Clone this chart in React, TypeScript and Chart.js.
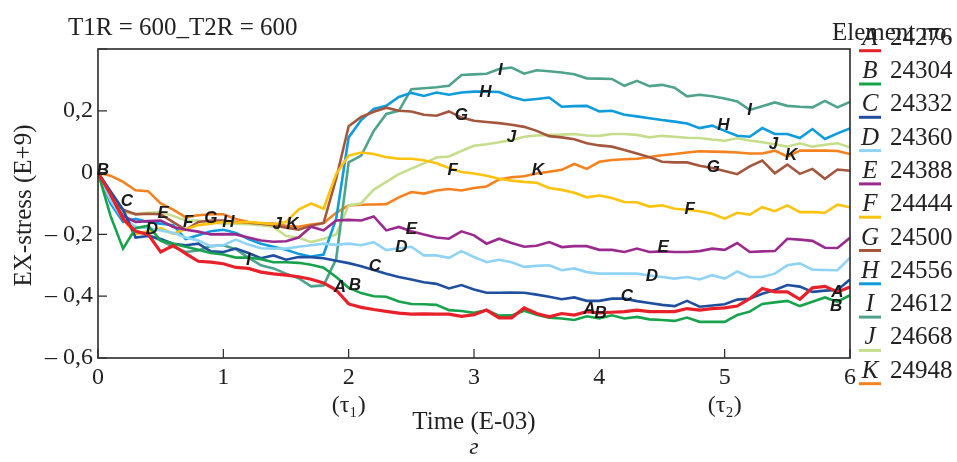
import React, { useEffect, useRef } from "react";
import { Chart, registerables } from "chart.js";
Chart.register(...registerables);

const TIME = [0, 0.1, 0.2, 0.3, 0.4, 0.5, 0.6, 0.7, 0.8, 0.9,
  1.0, 1.1, 1.2, 1.3, 1.4, 1.5, 1.6, 1.7, 1.8, 1.9,
  2.0, 2.1, 2.2, 2.3, 2.4, 2.5, 2.6, 2.7, 2.8, 2.9,
  3.0, 3.1, 3.2, 3.3, 3.4, 3.5, 3.6, 3.7, 3.8, 3.9,
  4.0, 4.1, 4.2, 4.3, 4.4, 4.5, 4.6, 4.7, 4.8, 4.9,
  5.0, 5.1, 5.2, 5.3, 5.4, 5.5, 5.6, 5.7, 5.8, 5.9, 6.0];

const SERIES_A = [0, -0.07, -0.15, -0.19, -0.2, -0.257, -0.236, -0.262, -0.287, -0.29,
  -0.295, -0.307, -0.31, -0.322, -0.328, -0.332, -0.337, -0.345, -0.357, -0.38,
  -0.425, -0.436, -0.443, -0.449, -0.455, -0.458, -0.457, -0.458, -0.458, -0.465,
  -0.46, -0.445, -0.47, -0.47, -0.438, -0.456, -0.467, -0.456, -0.461, -0.45,
  -0.454, -0.452, -0.45, -0.445, -0.45, -0.45, -0.45, -0.44, -0.445, -0.44,
  -0.438, -0.432, -0.408, -0.375, -0.386, -0.386, -0.41, -0.373, -0.368, -0.386, -0.37];
const SERIES_B = [0, -0.14, -0.246, -0.18, -0.172, -0.22, -0.23, -0.24, -0.25, -0.26,
  -0.265, -0.275, -0.275, -0.28, -0.29, -0.29, -0.292, -0.298, -0.308, -0.338,
  -0.373, -0.39, -0.4, -0.402, -0.417, -0.425, -0.426, -0.428, -0.445, -0.448,
  -0.454, -0.445, -0.463, -0.462, -0.447, -0.46, -0.47, -0.472, -0.477, -0.465,
  -0.472, -0.462, -0.472, -0.467, -0.475, -0.477, -0.48, -0.469, -0.483, -0.483,
  -0.483, -0.461, -0.45, -0.425, -0.42, -0.415, -0.432, -0.418, -0.404, -0.418, -0.397];
const SERIES_C = [0, -0.06, -0.12, -0.21, -0.205, -0.215, -0.23, -0.235, -0.23, -0.255,
  -0.257, -0.246, -0.26, -0.277, -0.268, -0.282, -0.273, -0.274, -0.277, -0.285,
  -0.293, -0.303, -0.315, -0.327, -0.338, -0.346, -0.355, -0.36, -0.375, -0.364,
  -0.378, -0.389, -0.389, -0.388, -0.389, -0.395, -0.402, -0.41, -0.404, -0.415,
  -0.415, -0.408, -0.408, -0.416, -0.422, -0.428, -0.432, -0.415, -0.434, -0.43,
  -0.426, -0.411, -0.408, -0.392, -0.38, -0.364, -0.369, -0.386, -0.382, -0.38, -0.346];
const SERIES_D = [0, -0.09, -0.15, -0.175, -0.18, -0.187, -0.195, -0.21, -0.22, -0.238,
  -0.235, -0.217, -0.233, -0.245, -0.246, -0.246, -0.24, -0.235, -0.23, -0.234,
  -0.23, -0.235, -0.225, -0.251, -0.245, -0.24, -0.268, -0.268, -0.276, -0.254,
  -0.273, -0.29, -0.282, -0.29, -0.305, -0.302, -0.3, -0.316, -0.31, -0.322,
  -0.327, -0.327, -0.327, -0.327, -0.333, -0.338, -0.343, -0.338, -0.346, -0.332,
  -0.343, -0.32, -0.338, -0.338, -0.327, -0.3, -0.294, -0.314, -0.315, -0.316, -0.275];
const SERIES_E = [0, -0.08, -0.14, -0.16, -0.157, -0.155, -0.176, -0.185, -0.191, -0.2,
  -0.199, -0.2, -0.21, -0.22, -0.224, -0.222, -0.21, -0.175, -0.187, -0.155,
  -0.153, -0.155, -0.142, -0.187, -0.176, -0.19, -0.2, -0.21, -0.214, -0.19,
  -0.203, -0.23, -0.214, -0.228, -0.24, -0.237, -0.225, -0.241, -0.238, -0.238,
  -0.25, -0.25, -0.257, -0.246, -0.257, -0.255, -0.257, -0.257, -0.254, -0.246,
  -0.25, -0.228, -0.257, -0.255, -0.254, -0.214, -0.217, -0.221, -0.243, -0.244, -0.211];
const SERIES_F = [0, -0.07, -0.15, -0.2, -0.19, -0.18, -0.198, -0.183, -0.17, -0.165,
  -0.16, -0.162, -0.16, -0.163, -0.167, -0.16, -0.12, -0.1, -0.117, -0.005,
  0.055, 0.065, 0.06, 0.05, 0.045, 0.045, 0.04, 0.03, 0.015, 0.002,
  -0.003, -0.01, -0.02, -0.026, -0.03, -0.033, -0.05, -0.056, -0.065, -0.08,
  -0.074, -0.082, -0.095, -0.096, -0.11, -0.106, -0.117, -0.12, -0.125, -0.133,
  -0.149, -0.13, -0.136, -0.112, -0.125, -0.106, -0.128, -0.128, -0.13, -0.104, -0.112];
const SERIES_G = [0, -0.09, -0.12, -0.135, -0.133, -0.135, -0.16, -0.185, -0.16, -0.155,
  -0.155, -0.16, -0.162, -0.165, -0.17, -0.178, -0.185, -0.172, -0.163, -0.02,
  0.15, 0.18, 0.197, 0.21, 0.2, 0.198, 0.187, 0.184, 0.198, 0.178,
  0.168, 0.164, 0.16, 0.155, 0.148, 0.135, 0.118, 0.114, 0.108, 0.095,
  0.088, 0.084, 0.073, 0.062, 0.05, 0.035, 0.033, 0.033, 0.022, 0.015,
  0.005, -0.005, 0.02, 0.039, -0.002, 0.026, -0.004, 0.012, -0.02, 0.01, 0.006];
const SERIES_H = [0, -0.1, -0.16, -0.15, -0.16, -0.165, -0.17, -0.215, -0.203, -0.19,
  -0.185, -0.195, -0.215, -0.23, -0.24, -0.25, -0.263, -0.272, -0.265, -0.15,
  0.114, 0.17, 0.206, 0.216, 0.245, 0.258, 0.248, 0.259, 0.252, 0.259,
  0.262, 0.262, 0.261, 0.245, 0.234, 0.238, 0.243, 0.213, 0.215, 0.216,
  0.198, 0.2, 0.187, 0.182, 0.176, 0.17, 0.165, 0.159, 0.144, 0.152,
  0.135, 0.119, 0.116, 0.144, 0.125, 0.125, 0.112, 0.141, 0.109, 0.127, 0.143];
const SERIES_I = [0, -0.08, -0.15, -0.19, -0.2, -0.22, -0.24, -0.257, -0.252, -0.238,
  -0.235, -0.248, -0.275, -0.3, -0.31, -0.327, -0.342, -0.368, -0.365, -0.28,
  0.033, 0.055, 0.135, 0.19, 0.2, 0.27, 0.273, 0.276, 0.281, 0.316,
  0.318, 0.32, 0.335, 0.34, 0.32, 0.331, 0.328, 0.324, 0.318, 0.305,
  0.304, 0.303, 0.281, 0.297, 0.28, 0.284, 0.275, 0.247, 0.252, 0.247,
  0.24, 0.23, 0.203, 0.215, 0.227, 0.216, 0.213, 0.211, 0.232, 0.211, 0.229];
const SERIES_J = [0, -0.07, -0.13, -0.133, -0.13, -0.128, -0.14, -0.155, -0.155, -0.16,
  -0.165, -0.165, -0.167, -0.17, -0.175, -0.205, -0.21, -0.225, -0.215, -0.2,
  -0.106, -0.099, -0.055, -0.03, -0.005, 0.013, 0.03, 0.049, 0.052, 0.07,
  0.087, 0.092, 0.098, 0.105, 0.116, 0.12, 0.122, 0.123, 0.125, 0.12,
  0.119, 0.125, 0.125, 0.122, 0.114, 0.119, 0.116, 0.113, 0.112, 0.107,
  0.103, 0.111, 0.104, 0.098, 0.092, 0.084, 0.095, 0.084, 0.09, 0.095, 0.082];
const SERIES_K = [0, -0.01, -0.03, -0.057, -0.06, -0.1, -0.12, -0.145, -0.138, -0.135,
  -0.135, -0.15, -0.16, -0.165, -0.165, -0.172, -0.175, -0.168, -0.163, -0.13,
  -0.106, -0.104, -0.103, -0.102, -0.08, -0.063, -0.068, -0.058, -0.053, -0.058,
  -0.05, -0.045, -0.022, -0.015, -0.012, -0.003, 0.003, 0.009, 0.028, 0.012,
  0.035, 0.041, 0.043, 0.045, 0.05, 0.056, 0.06, 0.065, 0.069, 0.068,
  0.067, 0.065, 0.062, 0.062, 0.071, 0.052, 0.071, 0.071, 0.071, 0.07, 0.06];

const LETTERS = ["A", "B", "C", "D", "E", "F", "G", "H", "I", "J", "K"];
const ELEMENT_NUMBERS = ["24276", "24304", "24332", "24360", "24388", "24444", "24500", "24556", "24612", "24668", "24948"];
const COLORS = ["#e8202a", "#17a24c", "#1f4f9e", "#8fd3f5", "#9b2a8f", "#ffc20e", "#a5573e", "#0f9bdc", "#4fa38c", "#c6de8c", "#f5821f"];
const ALL_SERIES = [SERIES_A, SERIES_B, SERIES_C, SERIES_D, SERIES_E, SERIES_F, SERIES_G, SERIES_H, SERIES_I, SERIES_J, SERIES_K];

const X_TICK_VALUES = [0, 1, 2, 3, 4, 5, 6];
const X_TICK_LABELS: (string | string[])[] = ["0", "1", ["2", "(τ₁)"], "3", "4", ["5", "(τ₂)"], "6"];
const Y_TICK_VALUES = [-0.6, -0.4, -0.2, 0, 0.2, 0.4];
const Y_TICK_LABELS = ["– 0,6", "– 0,4", "– 0,2", "0", "0,2", ""];

// inline curve labels: [letter, time, stress]
const CURVE_LABELS: [string, number, number][] = [
  ["B", 0.04, 0.006], ["C", 0.23, -0.094], ["D", 0.43, -0.184], ["E", 0.52, -0.132],
  ["F", 0.72, -0.161], ["G", 0.9, -0.148], ["H", 1.04, -0.161], ["I", 1.2, -0.284],
  ["J", 1.43, -0.168], ["K", 1.55, -0.168], ["A", 1.93, -0.371], ["B", 2.05, -0.365],
  ["C", 2.21, -0.303], ["D", 2.42, -0.242], ["E", 2.5, -0.184], ["F", 2.83, 0.006],
  ["G", 2.9, 0.184], ["H", 3.09, 0.261], ["I", 3.21, 0.332], ["J", 3.3, 0.113],
  ["K", 3.51, 0.006], ["A", 3.92, -0.442], ["B", 4.01, -0.455], ["C", 4.22, -0.4],
  ["D", 4.42, -0.335], ["E", 4.51, -0.242], ["F", 4.72, -0.119], ["G", 4.91, 0.016],
  ["H", 4.99, 0.152], ["I", 5.2, 0.203], ["J", 5.39, 0.09], ["K", 5.53, 0.055],
  ["A", 5.9, -0.387], ["B", 5.89, -0.432],
];

const TITLE = "T1R = 600_T2R = 600";
const LEGEND_TITLE = "Element no.";
const X_TITLE = "Time (E-03)";
const Y_TITLE = "EX-stress (E+9)";
const PANEL_LETTER = "г";

const SERIF = "'Liberation Serif', 'Times New Roman', serif";
const SANS = "'Liberation Sans', Arial, sans-serif";

const decorPlugin = {
  id: "decor",
  afterDraw(chart: any) {
    const ctx = chart.ctx as CanvasRenderingContext2D;
    const a = chart.chartArea;
    const xs = chart.scales.x;
    const ys = chart.scales.y;
    ctx.save();
    // frame
    ctx.strokeStyle = "#2a2a2a";
    ctx.lineWidth = 1.6;
    ctx.strokeRect(a.left, a.top, a.right - a.left, a.bottom - a.top);
    // inward ticks
    ctx.lineWidth = 1.2;
    ctx.beginPath();
    X_TICK_VALUES.forEach((v) => {
      const px = xs.getPixelForValue(v);
      ctx.moveTo(px, a.bottom);
      ctx.lineTo(px, a.bottom - 9);
    });
    Y_TICK_VALUES.forEach((v) => {
      const py = ys.getPixelForValue(v);
      ctx.moveTo(a.left, py);
      ctx.lineTo(a.left + 9, py);
    });
    ctx.stroke();

    // curve labels
    ctx.fillStyle = "#1a1a1a";
    ctx.font = `italic bold 17px ${SANS}`;
    ctx.textAlign = "center";
    ctx.textBaseline = "middle";
    CURVE_LABELS.forEach(([t, x, y]) => {
      ctx.fillText(t, xs.getPixelForValue(x), ys.getPixelForValue(y));
    });

    // title
    ctx.fillStyle = "#222";
    ctx.textAlign = "left";
    ctx.textBaseline = "alphabetic";
    ctx.font = `25px ${SERIF}`;
    ctx.fillText(TITLE, 68, 35);

    // axis titles
    ctx.textAlign = "center";
    ctx.font = `25px ${SERIF}`;
    ctx.fillText(X_TITLE, (a.left + a.right) / 2, 429);
    ctx.font = `italic 24px ${SERIF}`;
    ctx.fillText(PANEL_LETTER, (a.left + a.right) / 2, 454);
    ctx.save();
    ctx.translate(31, (a.top + a.bottom) / 2 + 2);
    ctx.rotate(-Math.PI / 2);
    ctx.font = `25px ${SERIF}`;
    ctx.fillText(Y_TITLE, 0, 0);
    ctx.restore();

    // legend
    ctx.textAlign = "left";
    ctx.font = `25px ${SERIF}`;
    ctx.fillText(LEGEND_TITLE, 832, 40);
    chart.data.datasets.forEach((ds: any, i: number) => {
      const lineY = 50.7 + i * 33.3;
      ctx.strokeStyle = ds.borderColor;
      ctx.lineWidth = 3;
      ctx.beginPath();
      ctx.moveTo(859, lineY);
      ctx.lineTo(881, lineY);
      ctx.stroke();
      ctx.fillStyle = "#222";
      ctx.textAlign = "center";
      ctx.font = `italic 25px ${SERIF}`;
      ctx.fillText(LETTERS[i], 870, lineY - 6);
      ctx.textAlign = "left";
      ctx.font = `25px ${SERIF}`;
      ctx.fillText(ELEMENT_NUMBERS[i], 890, lineY - 6);
    });
    ctx.restore();
  },
};

export default function App() {
  const ref = useRef<HTMLCanvasElement | null>(null);
  useEffect(() => {
    if (!ref.current) return;
    const datasets = ALL_SERIES.map((s, i) => ({
      label: `${LETTERS[i]} ${ELEMENT_NUMBERS[i]}`,
      data: TIME.map((t, j) => ({ x: t, y: s[j] })),
      borderColor: COLORS[i],
      backgroundColor: COLORS[i],
      borderWidth: i === 0 ? 3.2 : 2.6,
      pointRadius: 0,
      tension: 0,
      fill: false,
    }));
    const chart = new Chart(ref.current, {
      type: "line",
      data: { datasets },
      options: {
        animation: false,
        responsive: false,
        devicePixelRatio: 1,
        layout: { padding: { top: 49, right: 107, left: 0, bottom: 0 } },
        plugins: { legend: { display: false }, tooltip: { enabled: false }, title: { display: false } },
        scales: {
          x: {
            type: "linear",
            min: 0,
            max: 6,
            grid: { display: false, drawTicks: false },
            border: { display: false },
            afterBuildTicks: (scale: any) => {
              scale.ticks = X_TICK_VALUES.map((v) => ({ value: v }));
            },
            afterFit: (scale: any) => {
              scale.height = 104;
            },
            ticks: {
              padding: 6,
              maxRotation: 0,
              autoSkip: false,
              color: "#222",
              font: { family: SERIF, size: 24, lineHeight: 1.15 },
              callback: (v: any) => {
                const idx = X_TICK_VALUES.indexOf(Math.round(Number(v) * 10) / 10);
                return idx >= 0 ? X_TICK_LABELS[idx] : "";
              },
            },
          },
          y: {
            type: "linear",
            min: -0.6,
            max: 0.4,
            grid: { display: false, drawTicks: false },
            border: { display: false },
            afterBuildTicks: (scale: any) => {
              scale.ticks = Y_TICK_VALUES.map((v) => ({ value: v }));
            },
            afterFit: (scale: any) => {
              scale.width = 98;
            },
            ticks: {
              padding: 5,
              autoSkip: false,
              color: "#222",
              font: { family: SERIF, size: 24 },
              callback: (v: any) => {
                const idx = Y_TICK_VALUES.indexOf(Math.round(Number(v) * 10) / 10);
                return idx >= 0 ? Y_TICK_LABELS[idx] : "";
              },
            },
          },
        },
      },
      plugins: [decorPlugin],
    });
    return () => chart.destroy();
  }, []);
  return (
    <div style={{ position: "absolute", left: 0, top: 0, width: 957, height: 462, background: "#fff" }}>
      <canvas ref={ref} width={957} height={462} style={{ width: 957, height: 462 }} />
    </div>
  );
}
